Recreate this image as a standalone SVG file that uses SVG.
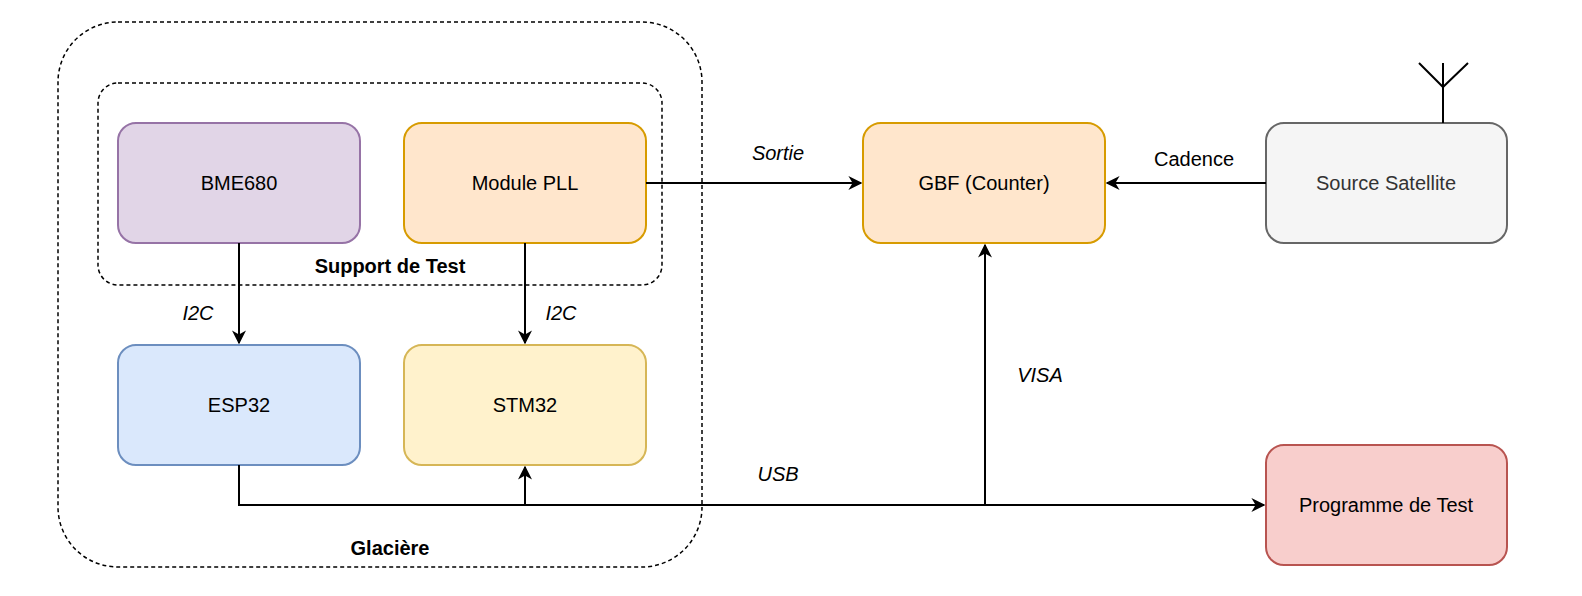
<svg xmlns="http://www.w3.org/2000/svg" width="1582" height="596" viewBox="0 0 1582 596">
<defs>
<style>
text{font-family:"Liberation Sans",Arial,sans-serif;font-size:20px;text-anchor:middle;dominant-baseline:central}
.it{font-style:italic}.b{font-weight:bold}
.n{stroke-width:2}
.c{fill:none;stroke:#000;stroke-width:2}
.d{fill:none;stroke:#000;stroke-width:1.5;stroke-dasharray:4 3}
</style>
<marker id="a" viewBox="0 0 10 10" refX="9" refY="5" markerWidth="7" markerHeight="7" markerUnits="userSpaceOnUse" orient="auto"><path d="M0,0L10,5L0,10L3,5z" fill="#000"/></marker>
<marker id="ah" viewBox="0 0 10 10" refX="9" refY="5" markerWidth="14" markerHeight="14" markerUnits="userSpaceOnUse" orient="auto"><path d="M0,0L10,5L0,10L3,5z" fill="#000"/></marker>
</defs>
<g id="glaciere"><rect x="58" y="22" width="644" height="545" rx="60" class="d"/><text x="390" y="548" class="b">Glacière</text></g>
<g id="support"><rect x="98" y="83" width="564" height="202" rx="20" class="d"/><text x="390" y="266" class="b">Support de Test</text></g>
<g id="bme"><rect x="118" y="123" width="242" height="120" rx="18" fill="#e1d5e7" stroke="#9673a6" class="n"/><text x="239" y="183">BME680</text></g>
<g id="pll"><rect x="404" y="123" width="242" height="120" rx="18" fill="#ffe6cc" stroke="#d79b00" class="n"/><text x="525" y="183">Module PLL</text></g>
<g id="gbf"><rect x="863" y="123" width="242" height="120" rx="18" fill="#ffe6cc" stroke="#d79b00" class="n"/><text x="984" y="183">GBF (Counter)</text></g>
<g id="source"><rect x="1266" y="123" width="241" height="120" rx="18" fill="#f5f5f5" stroke="#666" class="n"/><text x="1386" y="183" fill="#333">Source Satellite</text>
<path d="M1443,63V123M1419,63L1443,87L1468,63" fill="none" stroke="#000" stroke-width="2"/></g>
<g id="esp"><rect x="118" y="345" width="242" height="120" rx="18" fill="#dae8fc" stroke="#6c8ebf" class="n"/><text x="239" y="405">ESP32</text></g>
<g id="stm"><rect x="404" y="345" width="242" height="120" rx="18" fill="#fff2cc" stroke="#d6b656" class="n"/><text x="525" y="405">STM32</text></g>
<g id="prog"><rect x="1266" y="445" width="241" height="120" rx="18" fill="#f8cecc" stroke="#b85450" class="n"/><text x="1386" y="505">Programme de Test</text></g>
<g id="connectors">
<path d="M239,243V343" class="c" marker-end="url(#ah)"/>
<path d="M525,243V343" class="c" marker-end="url(#ah)"/>
<path d="M646,183H861" class="c" marker-end="url(#ah)"/>
<path d="M1266,183H1107" class="c" marker-end="url(#ah)"/>
<path d="M239,465V505H1264" class="c" marker-end="url(#ah)"/>
<path d="M540,505H525V467" class="c" marker-end="url(#ah)"/>
<path d="M985,505V245" class="c" marker-end="url(#ah)"/>
<text x="198" y="313" class="it">I2C</text>
<text x="561" y="313" class="it">I2C</text>
<text x="778" y="153" class="it">Sortie</text>
<text x="1194" y="159">Cadence</text>
<text x="1040" y="375" class="it">VISA</text>
<text x="778" y="474" class="it">USB</text>
</g>
</svg>
